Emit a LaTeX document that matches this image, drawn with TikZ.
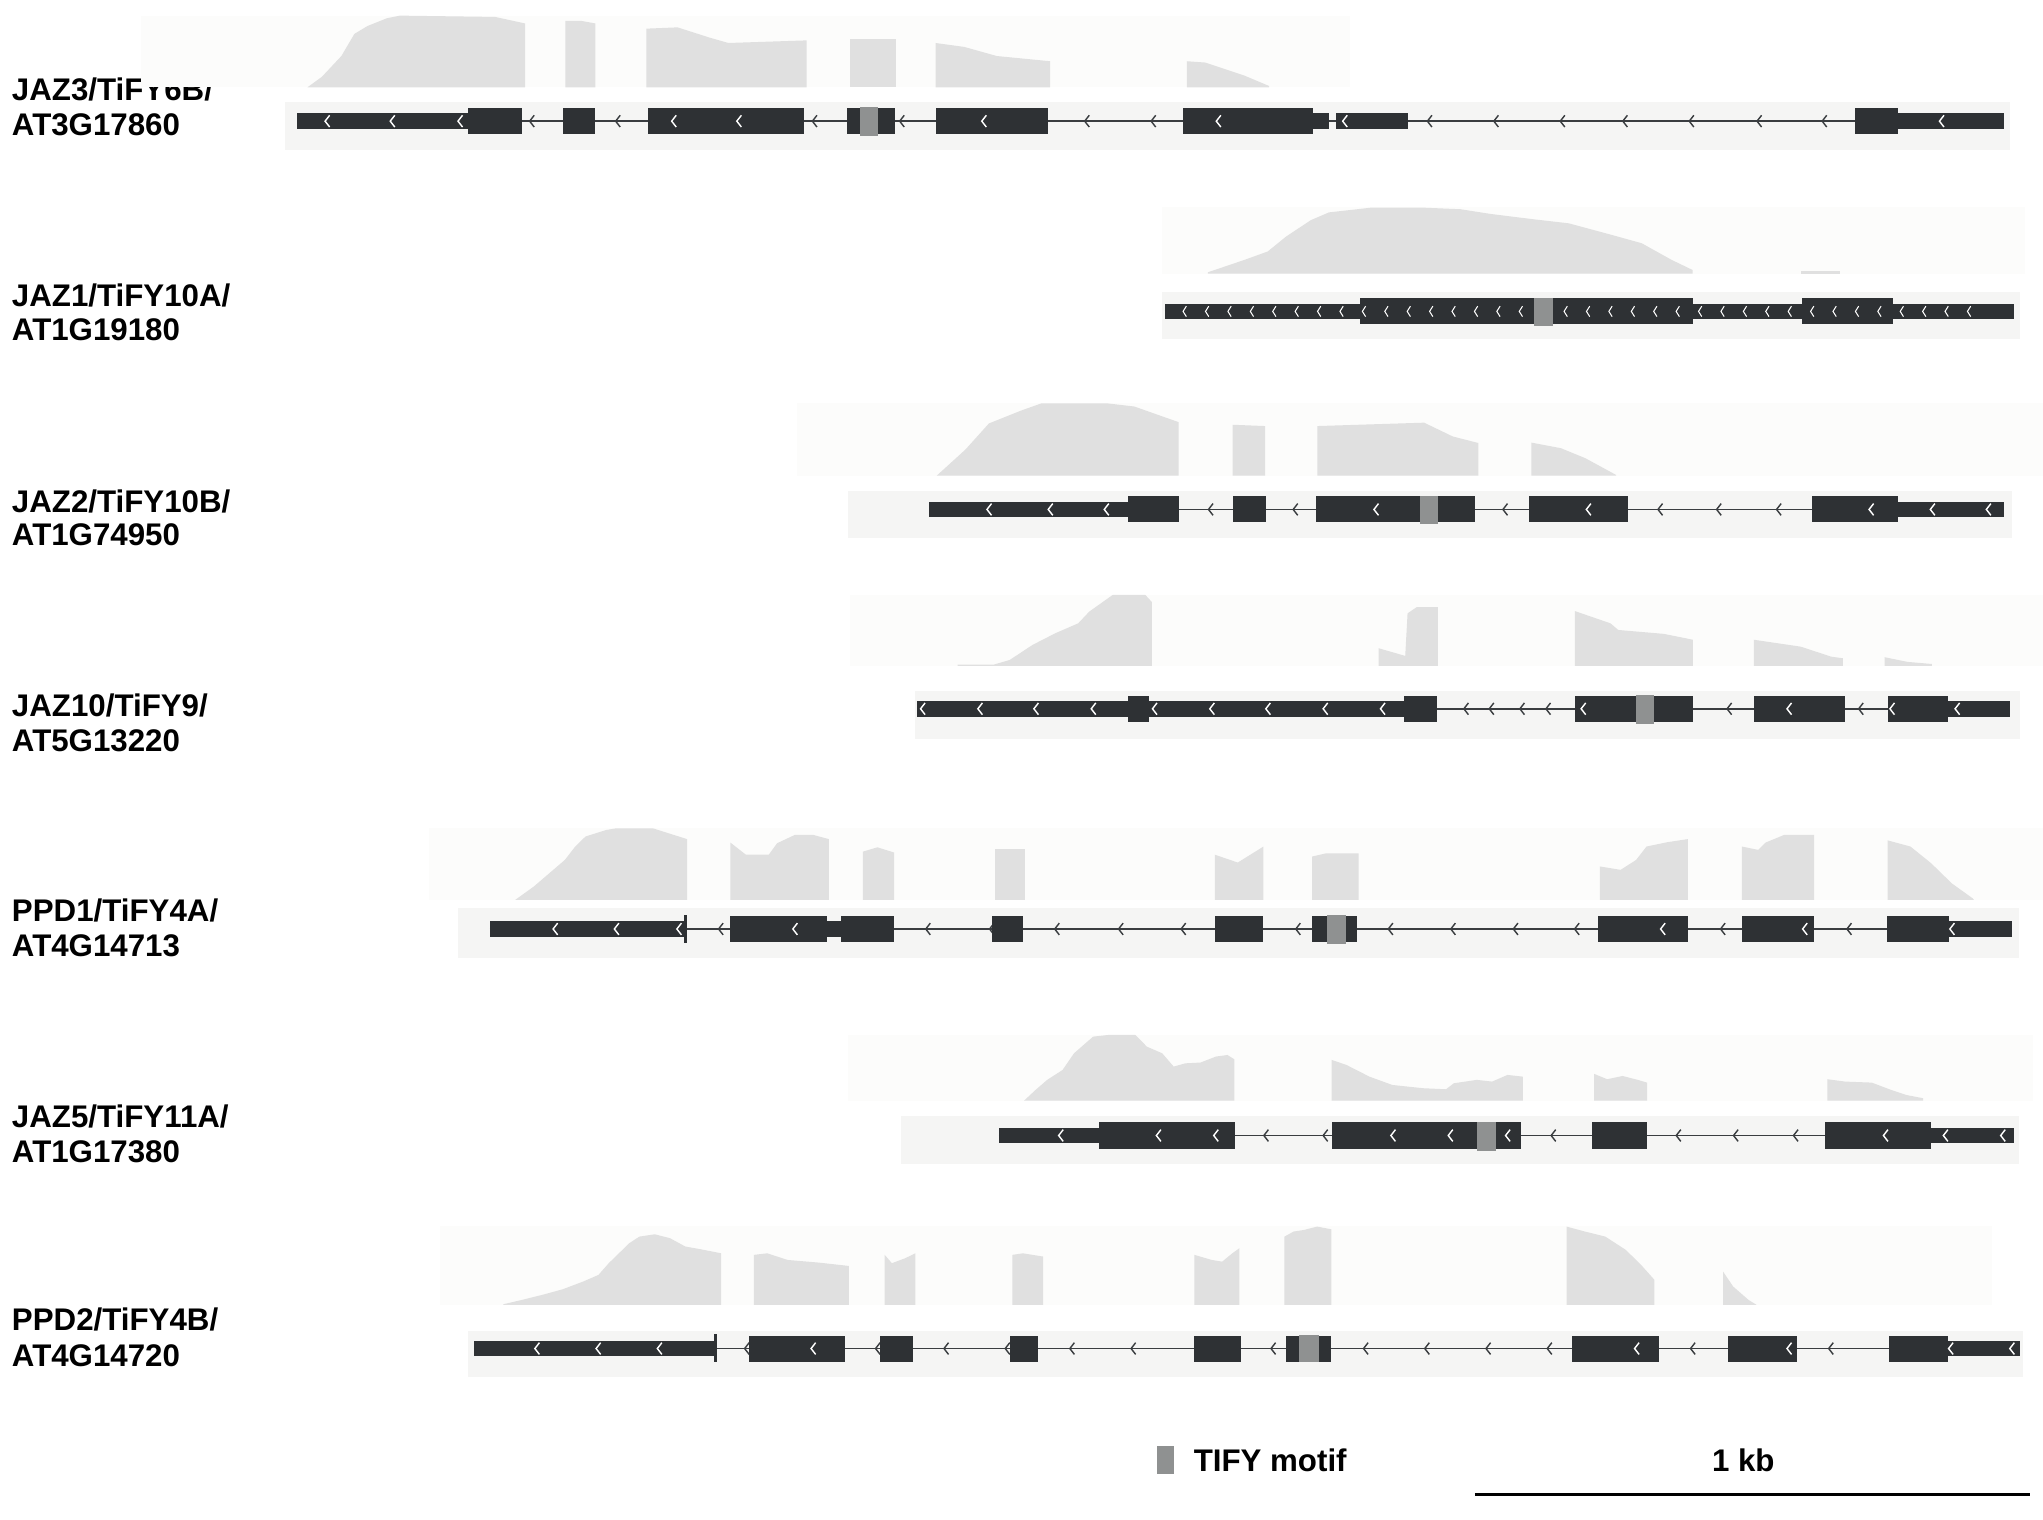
\documentclass[tikz,border=0pt]{standalone}
\usepackage{fontspec}
\setmainfont{Liberation Sans}

\definecolor{exon}{HTML}{2E3134}
\definecolor{introngray}{HTML}{3A3D40}
\definecolor{trackbg}{HTML}{F5F5F4}
\definecolor{covbg}{HTML}{FCFCFB}
\definecolor{covfill}{HTML}{E0E0E0}
\definecolor{tifygray}{HTML}{8F9191}

\begin{document}
\begin{tikzpicture}[x=1pt, y=-1pt,
    covbox/.style={fill=covbg},
    cover/.style={fill=covfill},
    track/.style={fill=trackbg},
    intron/.style={draw=introngray, line width=1.4pt},
    tify/.style={fill=tifygray},
    chevw/.style={draw=white, line width=1.1pt},
    chevd/.style={draw=introngray, line width=1.1pt},
    genelabel/.style={font=\bfseries\fontsize{24}{24}\selectfont, anchor=base west, inner sep=0pt}]
    \useasboundingbox (0,0) rectangle (1568,1166);

    % Gene names
    \node[genelabel] (jaz3-name) at (9,77) {JAZ3/TiFY6B/};
    \node[genelabel] (jaz3-id) at (9,104) {AT3G17860};
    \node[genelabel] (jaz1-name) at (9,235) {JAZ1/TiFY10A/};
    \node[genelabel] (jaz1-id) at (9,261) {AT1G19180};
    \node[genelabel] (jaz2-name) at (9,393) {JAZ2/TiFY10B/};
    \node[genelabel] (jaz2-id) at (9,419) {AT1G74950};
    \node[genelabel] (jaz10-name) at (9,550) {JAZ10/TiFY9/};
    \node[genelabel] (jaz10-id) at (9,577) {AT5G13220};
    \node[genelabel] (ppd1-name) at (9,707) {PPD1/TiFY4A/};
    \node[genelabel] (ppd1-id) at (9,734) {AT4G14713};
    \node[genelabel] (jaz5-name) at (9,865) {JAZ5/TiFY11A/};
    \node[genelabel] (jaz5-id) at (9,892) {AT1G17380};
    \node[genelabel] (ppd2-name) at (9,1021) {PPD2/TiFY4B/};
    \node[genelabel] (ppd2-id) at (9,1049) {AT4G14720};

    % JAZ3
    \begin{scope}[shift={(0,93)}]
        \fill[covbox] (108,-81) rectangle (1036,-26);
        \fill[cover] (236,-26) -- (247,-34) -- (262,-50) -- (272,-67) -- (282,-73) -- (297,-79) -- (307,-81) -- (380,-80) -- (403,-75) -- (403,-26) -- cycle;
        \fill[cover] (434,-26) -- (434,-77) -- (446,-77) -- (457,-75) -- (457,-26) -- cycle;
        \fill[cover] (496,-26) -- (496,-71) -- (520,-72) -- (545,-64) -- (559,-60) -- (619,-62) -- (619,-26) -- cycle;
        \fill[cover] (652,-26) -- (652,-63) -- (688,-63) -- (688,-26) -- cycle;
        \fill[cover] (718,-26) -- (718,-60) -- (740,-57) -- (765,-50) -- (806,-46) -- (806,-26) -- cycle;
        \fill[cover] (911,-26) -- (911,-46) -- (925,-45) -- (940,-40) -- (955,-35) -- (974,-27) -- (974,-26) -- cycle;
        \fill[track] (219,-15) rectangle (1543,22);
        \draw[intron] (228,0) -- (1538,0);
        \foreach \x in {408,474,625,692,834,885,1097,1148,1199,1247,1298,1350,1400}
            \draw[chevd] (\x+2,-4.5) -- (\x-1.5,0) -- (\x+2,4.5);
        \foreach \a/\b in {228/360,1008/1020,1025/1081,1457/1538}
            \fill[exon] (\a,-6) rectangle (\b,6);
        \foreach \a/\b in {359/401,432/457,497/617,650/687,718/804,908/1008,1424/1457}
            \fill[exon] (\a,-10) rectangle (\b,10);
        \fill[tify] (660,-10.5) rectangle (674,11.5);
        \foreach \x in {251,301,353,517,567,755,935,1032,1490}
            \draw[chevw] (\x+2,-4.5) -- (\x-1.5,0) -- (\x+2,4.5);
    \end{scope}

    % JAZ1
    \begin{scope}[shift={(0,239)}]
        \fill[covbox] (892,-80) rectangle (1554,-29);
        \fill[cover] (927,-29) -- (927,-30) -- (955,-39.5) -- (973,-46) -- (987,-57.4) -- (1006,-70) -- (1020,-76) -- (1038,-78) -- (1052,-79.6) -- (1093,-79.6) -- (1121,-78.4) -- (1144,-74.8) -- (1177,-70.7) -- (1204,-67.6) -- (1237,-58.7) -- (1260,-52.3) -- (1283,-39.5) -- (1299,-31.8) -- (1299,-29) -- cycle;
        \fill[cover] (1382,-29) rectangle (1412,-31);
        \fill[track] (892,-15) rectangle (1550,21);
        \draw[intron] (894,0) -- (1546,0);
        \foreach \a/\b in {894/1044,1299/1383,1453/1546}
            \fill[exon] (\a,-6) rectangle (\b,6);
        \foreach \a/\b in {1044/1299,1383/1453}
            \fill[exon] (\a,-10) rectangle (\b,10);
        \foreach \x in {909,926.2,...,1525}
            \draw[chevw, line width=0.8pt] (\x+1.5,-4) -- (\x-1,0) -- (\x+1.5,4);
        \fill[tify] (1177.5,-10.5) rectangle (1192,11.5);
    \end{scope}

    % JAZ2
    \begin{scope}[shift={(0,391)}]
        \fill[covbox] (612,-81.5) rectangle (1568,-26);
        \fill[cover] (719,-26) -- (741,-46) -- (759,-66) -- (784,-76) -- (799.5,-81.5) -- (849,-81.5) -- (870.6,-79) -- (889,-72.5) -- (904.6,-67) -- (904.6,-26) -- cycle;
        \fill[cover] (946,-26) -- (946,-65) -- (971,-64) -- (971,-26) -- cycle;
        \fill[cover] (1011,-26) -- (1011,-64) -- (1093,-66.6) -- (1115,-56) -- (1134.6,-51) -- (1134.6,-26) -- cycle;
        \fill[cover] (1175.4,-26) -- (1175.4,-51.3) -- (1198,-47) -- (1216.8,-39.3) -- (1240.3,-26.5) -- (1240.3,-26) -- cycle;
        \fill[track] (651,-14) rectangle (1544.5,22);
        \draw[intron] (713,0) -- (1538,0);
        \foreach \x in {929,994,1155,1274,1319,1365}
            \draw[chevd] (\x+2,-4.5) -- (\x-1.5,0) -- (\x+2,4.5);
        \foreach \a/\b in {713/866,1457/1538}
            \fill[exon] (\a,-6) rectangle (\b,6);
        \foreach \a/\b in {866/904.6,946/971.4,1009.7/1132,1173.5/1249.6,1391/1457}
            \fill[exon] (\a,-10) rectangle (\b,10);
        \fill[tify] (1090,-10.5) rectangle (1104,11.5);
        \foreach \x in {759,806,849,1056,1219,1436,1483,1526}
            \draw[chevw] (\x+2,-4.5) -- (\x-1.5,0) -- (\x+2,4.5);
    \end{scope}

    % JAZ10
    \begin{scope}[shift={(0,544)}]
        \fill[covbox] (652,-87.4) rectangle (1568,-33);
        \fill[cover] (735,-33) -- (735,-34) -- (763,-34) -- (775,-37.5) -- (792.4,-49) -- (810,-58) -- (827.5,-65.6) -- (836,-74.6) -- (845,-81) -- (854,-87.4) -- (879,-87.4) -- (884,-82) -- (884,-33) -- cycle;
        \fill[cover] (1058,-33) -- (1058,-46.5) -- (1078.5,-40.6) -- (1080.3,-73.3) -- (1087.3,-78) -- (1103.6,-78) -- (1103.6,-33) -- cycle;
        \fill[cover] (1208.7,-33) -- (1208.7,-75) -- (1236,-65.6) -- (1242,-60.5) -- (1277,-57.5) -- (1299.3,-53) -- (1299.3,-33) -- cycle;
        \fill[cover] (1346,-33) -- (1346,-53) -- (1382,-47.7) -- (1405.5,-40) -- (1414.3,-38.8) -- (1414.3,-33) -- cycle;
        \fill[cover] (1446.4,-33) -- (1446.4,-39.6) -- (1464,-36) -- (1482.6,-34.4) -- (1482.6,-33) -- cycle;
        \fill[track] (702,-14) rectangle (1550,23);
        \draw[intron] (704,0) -- (1543,0);
        \foreach \x in {1125,1144.5,1168,1188,1327,1428}
            \draw[chevd] (\x+2,-4.5) -- (\x-1.5,0) -- (\x+2,4.5);
        \foreach \a/\b in {703.7/865.4,881.8/1077.4,1494.8/1542.7}
            \fill[exon] (\a,-6) rectangle (\b,6);
        \foreach \a/\b in {865.4/881.8,1077.4/1103,1208.7/1299.3,1346/1416,1449.3/1494.8}
            \fill[exon] (\a,-10) rectangle (\b,10);
        \fill[tify] (1255.5,-10.5) rectangle (1269.5,11.5);
        \foreach \x in {708,752,795,839,886,930,973,1017,1061,1215,1373,1452,1502}
            \draw[chevw] (\x+2,-4.5) -- (\x-1.5,0) -- (\x+2,4.5);
    \end{scope}

    % PPD1
    \begin{scope}[shift={(0,713)}]
        \fill[covbox] (329,-77.3) rectangle (1568,-22.3);
        \fill[cover] (395.4,-22.3) -- (409.7,-32.6) -- (421.6,-42.8) -- (433.5,-53) -- (441.5,-63.3) -- (449.4,-71) -- (465.3,-76) -- (473.2,-77.3) -- (501,-77.3) -- (513,-73.5) -- (527.3,-69) -- (527.3,-22.3) -- cycle;
        \fill[cover] (560.6,-22.3) -- (560.6,-66.3) -- (572.5,-57) -- (590,-57) -- (596.4,-65.8) -- (610,-72.2) -- (624.2,-72.2) -- (636.1,-69) -- (636.1,-22.3) -- cycle;
        \fill[cover] (662.3,-22.3) -- (662.3,-59.4) -- (673.4,-62.7) -- (686.2,-58.7) -- (686.2,-22.3) -- cycle;
        \fill[cover] (764,-22.3) rectangle (787,-61.2);
        \fill[cover] (932.4,-22.3) -- (932.4,-57) -- (950,-51) -- (969.7,-63.3) -- (969.7,-22.3) -- cycle;
        \fill[cover] (1007,-22.3) -- (1007,-55.6) -- (1017.4,-58) -- (1042.8,-58) -- (1042.8,-22.3) -- cycle;
        \fill[cover] (1227.9,-22.3) -- (1227.9,-48) -- (1243.8,-45.4) -- (1255.7,-53) -- (1263.7,-63.3) -- (1279.6,-66.6) -- (1295.4,-69) -- (1295.4,-22.3) -- cycle;
        \fill[cover] (1336.8,-22.3) -- (1336.8,-63.3) -- (1349.5,-60.7) -- (1355,-66.3) -- (1369.3,-72.2) -- (1392.3,-72.2) -- (1392.3,-22.3) -- cycle;
        \fill[cover] (1448.8,-22.3) -- (1448.8,-68) -- (1466.2,-63.3) -- (1482.1,-50.5) -- (1498,-35) -- (1513.9,-23.6) -- (1515,-22.3) -- cycle;
        \fill[track] (351.7,-16.4) rectangle (1549.6,22);
        \draw[intron] (376,0) -- (1544,0);
        \foreach \x in {553,712,761,811,860,908,996,1067,1115,1163,1210,1322,1419}
            \draw[chevd] (\x+2,-4.5) -- (\x-1.5,0) -- (\x+2,4.5);
        \foreach \a/\b in {376.3/524.9,634.5/645.6,1495.6/1544}
            \fill[exon] (\a,-6) rectangle (\b,6);
        \fill[exon] (525,-10.8) rectangle (527.3,10.4);
        \foreach \a/\b in {560.6/634.5,645.6/686,761.6/785.4,932.4/969.7,1007/1041.2,1226.3/1295.4,1336.8/1392.3,1448/1495.6}
            \fill[exon] (\a,-10) rectangle (\b,10);
        \fill[tify] (1018.2,-10.5) rectangle (1033.3,11.5);
        \foreach \x in {426,473,521,610,1276,1385,1498}
            \draw[chevw] (\x+2,-4.5) -- (\x-1.5,0) -- (\x+2,4.5);
    \end{scope}

    % JAZ5
    \begin{scope}[shift={(0,871.5)}]
        \fill[covbox] (650.6,-77.2) rectangle (1560.3,-26.8);
        \fill[cover] (786,-26.8) -- (794.8,-35) -- (803.7,-42.7) -- (815.5,-50.3) -- (824.3,-63.1) -- (833.1,-70.8) -- (839,-75.9) -- (850.8,-77.2) -- (871.4,-77.2) -- (880.2,-68.2) -- (892,-63.1) -- (900.8,-52.9) -- (909.7,-55.4) -- (921.4,-56) -- (933.2,-60.6) -- (942.1,-61.8) -- (947.3,-58.5) -- (947.3,-26.8) -- cycle;
        \fill[cover] (1022.1,-26.8) -- (1022.1,-58) -- (1033.3,-54.2) -- (1051,-45.2) -- (1068.6,-38.8) -- (1092.2,-36.3) -- (1109.8,-35.5) -- (1115.8,-40.1) -- (1133.4,-42.7) -- (1145.2,-41.4) -- (1157,-46.5) -- (1168.7,-45.2) -- (1168.7,-26.8) -- cycle;
        \fill[cover] (1223.5,-26.8) -- (1223.5,-47.3) -- (1233.5,-43.2) -- (1245.3,-45.7) -- (1257,-42.7) -- (1264.1,-40.6) -- (1264.1,-26.8) -- cycle;
        \fill[cover] (1402.5,-26.8) -- (1402.5,-43.2) -- (1416,-41.4) -- (1436.6,-40.6) -- (1451.4,-35) -- (1463.1,-31.1) -- (1476,-28.6) -- (1476,-26.8) -- cycle;
        \fill[track] (691.8,-15) rectangle (1549.7,22.1);
        \draw[intron] (766.6,0) -- (1545.6,0);
        \foreach \x in {971.5,1017,1192,1288,1332,1378}
            \draw[chevd] (\x+2,-4.5) -- (\x-1.5,0) -- (\x+2,4.5);
        \foreach \a/\b in {766.6/843.1,1482/1545.6}
            \fill[exon] (\a,-6) rectangle (\b,6);
        \foreach \a/\b in {843.1/947.9,1022.1/1167.5,1221.7/1264.1,1400.7/1482}
            \fill[exon] (\a,-10) rectangle (\b,10);
        \fill[tify] (1133.4,-10.5) rectangle (1148.1,11.5);
        \foreach \x in {814,889,933,1069,1113,1157,1447,1493,1537}
            \draw[chevw] (\x+2,-4.5) -- (\x-1.5,0) -- (\x+2,4.5);
    \end{scope}

    % PPD2
    \begin{scope}[shift={(0,1035)}]
        \fill[covbox] (337.7,-94.1) rectangle (1528.7,-33.5);
        \fill[cover] (386.3,-33.5) -- (386.3,-34) -- (400.5,-37.3) -- (416.2,-41.2) -- (431.9,-45.5) -- (447.5,-51.4) -- (459.3,-56.5) -- (467.2,-65.5) -- (475,-73.1) -- (482.9,-80.8) -- (490.7,-85.9) -- (502.5,-87.7) -- (514.2,-84.7) -- (526,-78.3) -- (537.8,-76.2) -- (553.5,-73.1) -- (553.5,-33.5) -- cycle;
        \fill[cover] (578.6,-33.5) -- (578.6,-71.9) -- (588.8,-73.1) -- (604.5,-68) -- (628,-66) -- (651.5,-63.4) -- (651.5,-33.5) -- cycle;
        \fill[cover] (679,-33.5) -- (679,-71.9) -- (684.5,-65.5) -- (694.7,-69.3) -- (702.5,-73.1) -- (702.5,-33.5) -- cycle;
        \fill[cover] (777,-33.5) -- (777,-71.9) -- (785,-73.1) -- (800.6,-70.6) -- (800.6,-33.5) -- cycle;
        \fill[cover] (916.7,-33.5) -- (916.7,-71.9) -- (930,-68) -- (938,-66.7) -- (945.8,-73.1) -- (951.2,-77) -- (951.2,-33.5) -- cycle;
        \fill[cover] (985.8,-33.5) -- (985.8,-85.9) -- (992.8,-89.8) -- (1000.7,-91) -- (1010.9,-93.6) -- (1021.9,-91.5) -- (1021.9,-33.5) -- cycle;
        \fill[cover] (1202.3,-33.5) -- (1202.3,-93.6) -- (1216.4,-89.8) -- (1232.1,-85.9) -- (1247.8,-75.7) -- (1259.5,-64.2) -- (1269.8,-52.7) -- (1269.8,-33.5) -- cycle;
        \fill[cover] (1322.4,-33.5) -- (1322.4,-59.1) -- (1330.2,-47.6) -- (1342,-37.3) -- (1348.2,-33.5) -- cycle;
        \fill[track] (358.9,-13.8) rectangle (1552.3,21.5);
        \draw[intron] (363.6,0) -- (1550,0);
        \foreach \x in {573,673.5,726,773,822.6,869.6,977,1048,1095,1142,1189,1299,1405}
            \draw[chevd] (\x+2,-4.5) -- (\x-1.5,0) -- (\x+2,4.5);
        \foreach \a/\b in {363.6/548,1495/1550}
            \fill[exon] (\a,-6) rectangle (\b,6);
        \fill[exon] (548,-10.8) rectangle (550.3,10.4);
        \foreach \a/\b in {574.6/648.4,675.1/701,775.5/796.7,916.7/952.1,987.3/1021.9,1206.2/1273,1326.3/1378.9,1449.5/1495}
            \fill[exon] (\a,-10) rectangle (\b,10);
        \fill[tify] (996.8,-10.7) rectangle (1012.4,10.5);
        \foreach \x in {412,459,506,624,1256,1373,1497,1544}
            \draw[chevw] (\x+2,-4.5) -- (\x-1.5,0) -- (\x+2,4.5);
    \end{scope}

    % Legend and scale bar
    \fill[tify] (888,1110) rectangle (901,1131);
    \node[genelabel] (tify-key) at (916,1129) {TIFY motif};
    \node[genelabel, anchor=base] (kb-label) at (1338,1129) {1 kb};
    \coordinate (bar-left) at (1132,1147);
    \coordinate (bar-right) at (1558,1147);
    \draw[line width=2.5pt] (bar-left) -- (bar-right);
\end{tikzpicture}
\end{document}
